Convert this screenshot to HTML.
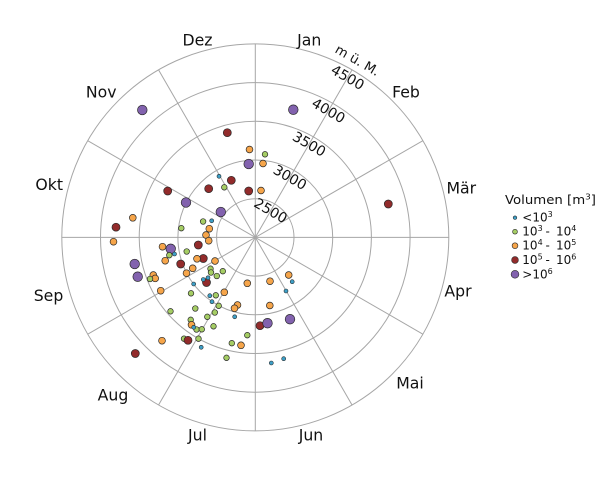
<!DOCTYPE html>
<html>
<head>
<meta charset="utf-8">
<style>
html,body{margin:0;padding:0;background:#fff;}
svg{display:block;}
text{font-family:"DejaVu Sans","Liberation Sans",sans-serif;fill:#111;}
</style>
</head>
<body>
<svg width="616" height="483" viewBox="0 0 616 483" xmlns="http://www.w3.org/2000/svg">
<rect width="616" height="483" fill="#fff"/>
<g fill="none" stroke="#a6a6a6" stroke-width="1">
<circle cx="255.3" cy="237.4" r="38.7"/>
<circle cx="255.3" cy="237.4" r="77.4"/>
<circle cx="255.3" cy="237.4" r="116.1"/>
<circle cx="255.3" cy="237.4" r="154.8"/>
<circle cx="255.3" cy="237.4" r="193.5"/>
<line x1="255.3" y1="43.9" x2="255.3" y2="430.9"/>
<line x1="61.8" y1="237.4" x2="448.8" y2="237.4"/>
<line x1="352.05" y1="69.82" x2="158.55" y2="404.98"/>
<line x1="422.88" y1="140.65" x2="87.72" y2="334.15"/>
<line x1="422.88" y1="334.15" x2="87.72" y2="140.65"/>
<line x1="352.05" y1="404.98" x2="158.55" y2="69.82"/>
</g>

<!-- month labels -->
<g font-size="15.7" text-anchor="middle">
<text x="309.2" y="45.7">Jan</text>
<text x="406" y="97.3">Feb</text>
<text x="461.3" y="193.3">Mär</text>
<text x="458" y="296.7">Apr</text>
<text x="410" y="388.3">Mai</text>
<text x="311" y="440.5">Jun</text>
<text x="197.5" y="440.5">Jul</text>
<text x="113" y="400.5">Aug</text>
<text x="48.5" y="301">Sep</text>
<text x="49.2" y="190">Okt</text>
<text x="101.2" y="97.3">Nov</text>
<text x="197.5" y="45.7">Dez</text>
</g>

<!-- radial labels -->
<g font-size="14" text-anchor="middle">
<text transform="translate(270.8,210.5) rotate(30)" y="5">2500</text>
<text transform="translate(290.1,177.2) rotate(30)" y="5">3000</text>
<text transform="translate(309.3,143.9) rotate(30)" y="5">3500</text>
<text transform="translate(328.6,110.5) rotate(30)" y="5">4000</text>
<text transform="translate(347.8,77.2) rotate(30)" y="5">4500</text>
<text transform="translate(357.5,60.3) rotate(30)" y="4.5" font-size="13">m ü. M.</text>
</g>

<!-- purple >10^6 -->
<g fill="#8262ae" stroke="#2a2a2a" stroke-width="0.7">
<circle cx="142.3" cy="110" r="4.8"/>
<circle cx="293.3" cy="109.7" r="4.8"/>
<circle cx="248.7" cy="164" r="4.8"/>
<circle cx="186" cy="202.5" r="4.8"/>
<circle cx="220.8" cy="212" r="4.8"/>
<circle cx="170.7" cy="248.8" r="4.8"/>
<circle cx="134.7" cy="264" r="4.8"/>
<circle cx="137.7" cy="276.7" r="4.8"/>
<circle cx="290" cy="319.2" r="4.8"/>
</g>

<!-- red 10^5-10^6 -->
<g fill="#922b2b" stroke="#2a2a2a" stroke-width="0.7">
<circle cx="227.3" cy="132.7" r="4"/>
<circle cx="231.3" cy="180.3" r="4"/>
<circle cx="208.7" cy="188.7" r="4"/>
<circle cx="248.7" cy="191" r="4"/>
<circle cx="167.7" cy="191" r="4"/>
<circle cx="388.3" cy="204" r="4"/>
<circle cx="116" cy="227.2" r="4"/>
<circle cx="198.3" cy="245" r="4"/>
<circle cx="180.7" cy="264" r="4"/>
<circle cx="203.3" cy="258.5" r="4"/>
<circle cx="206.5" cy="282.5" r="4"/>
<circle cx="260" cy="325.7" r="4"/>
<circle cx="135.3" cy="353.5" r="4"/>
</g>
<circle cx="267.5" cy="323.2" r="4.8" fill="#8262ae" stroke="#2a2a2a" stroke-width="0.7"/>

<!-- orange 10^4-10^5 -->
<g fill="#f6a54a" stroke="#2a2a2a" stroke-width="0.7">
<circle cx="249.5" cy="149.5" r="3.4"/>
<circle cx="263" cy="163.5" r="3.4"/>
<circle cx="261" cy="190.5" r="3.4"/>
<circle cx="132.8" cy="217.8" r="3.4"/>
<circle cx="113.5" cy="241.7" r="3.4"/>
<circle cx="209.3" cy="228.7" r="3.4"/>
<circle cx="206" cy="235" r="3.4"/>
<circle cx="208.7" cy="240.7" r="3.4"/>
<circle cx="162.5" cy="246.7" r="3.4"/>
<circle cx="165.2" cy="260.7" r="3.4"/>
<circle cx="197" cy="258.8" r="3.4"/>
<circle cx="215" cy="261" r="3.4"/>
<circle cx="192.7" cy="268.3" r="3.4"/>
<circle cx="186.5" cy="273.2" r="3.4"/>
<circle cx="153.3" cy="275" r="3.4"/>
<circle cx="155.2" cy="278.4" r="3.4"/>
<circle cx="247.3" cy="283.3" r="3.4"/>
<circle cx="270" cy="281.2" r="3.4"/>
<circle cx="288.7" cy="275" r="3.4"/>
<circle cx="160.7" cy="290.7" r="3.4"/>
<circle cx="224.3" cy="292.3" r="3.4"/>
<circle cx="237.5" cy="305" r="3.4"/>
<circle cx="234.5" cy="308.3" r="3.4"/>
<circle cx="269.8" cy="305.5" r="3.4"/>
<circle cx="162" cy="340.7" r="3.4"/>
<circle cx="241" cy="345.3" r="3.4"/>
</g>

<!-- green 10^3-10^4 -->
<g fill="#a5cd64" stroke="#2a2a2a" stroke-width="0.7">
<circle cx="265" cy="154.3" r="2.8"/>
<circle cx="224.3" cy="187.3" r="2.8"/>
<circle cx="203.1" cy="221.5" r="2.8"/>
<circle cx="181.3" cy="228.2" r="2.8"/>
<circle cx="169.3" cy="255.2" r="2.8"/>
<circle cx="186.7" cy="251.5" r="2.8"/>
<circle cx="150" cy="279" r="2.8"/>
<circle cx="210.5" cy="268.7" r="2.8"/>
<circle cx="211" cy="272.5" r="2.8"/>
<circle cx="222.8" cy="271.2" r="2.8"/>
<circle cx="216.8" cy="276" r="2.8"/>
<circle cx="191" cy="293.3" r="2.8"/>
<circle cx="215.8" cy="295.3" r="2.8"/>
<circle cx="218.7" cy="305.8" r="2.8"/>
<circle cx="195.3" cy="308.5" r="2.8"/>
<circle cx="170.5" cy="311.3" r="2.8"/>
<circle cx="214.8" cy="312.5" r="2.8"/>
<circle cx="207.3" cy="316.8" r="2.8"/>
<circle cx="190.7" cy="319.8" r="2.8"/>
<circle cx="196.5" cy="329.5" r="2.8"/>
<circle cx="201.8" cy="329.3" r="2.8"/>
<circle cx="213.5" cy="326.3" r="2.8"/>
<circle cx="184" cy="338.7" r="2.8"/>
<circle cx="198.5" cy="338.7" r="2.8"/>
<circle cx="247.3" cy="335.2" r="2.8"/>
<circle cx="231.8" cy="343.2" r="2.8"/>
<circle cx="226.5" cy="357.8" r="2.8"/>
</g>
<circle cx="191.5" cy="324.8" r="3.4" fill="#f6a54a" stroke="#2a2a2a" stroke-width="0.7"/>
<circle cx="188" cy="340.3" r="4" fill="#922b2b" stroke="#2a2a2a" stroke-width="0.7"/>

<!-- blue <10^3 -->
<g fill="#3d9fc7" stroke="#2a2a2a" stroke-width="0.6">
<circle cx="219" cy="176.3" r="2"/>
<circle cx="211.7" cy="220.8" r="2"/>
<circle cx="174.5" cy="254" r="2"/>
<circle cx="208" cy="277.8" r="2"/>
<circle cx="203.3" cy="279.5" r="2"/>
<circle cx="193.7" cy="284" r="2"/>
<circle cx="209.8" cy="295.7" r="2"/>
<circle cx="212" cy="301.7" r="2"/>
<circle cx="234.7" cy="316.8" r="2"/>
<circle cx="193.7" cy="327.3" r="2"/>
<circle cx="201.2" cy="347.3" r="2"/>
<circle cx="292.2" cy="281.7" r="2"/>
<circle cx="286" cy="291" r="2"/>
<circle cx="271.3" cy="363" r="2"/>
<circle cx="283.7" cy="358.7" r="2"/>
</g>

<!-- legend -->
<text x="505" y="204" font-size="12" textLength="91" lengthAdjust="spacingAndGlyphs">Volumen [m<tspan font-size="8" dy="-4.5">3</tspan><tspan dy="4.5">]</tspan></text>
<circle cx="515" cy="217.7" r="1.8" fill="#3d9fc7" stroke="#2a2a2a" stroke-width="0.6"/>
<circle cx="515" cy="231.7" r="2.4" fill="#a5cd64" stroke="#2a2a2a" stroke-width="0.6"/>
<circle cx="515" cy="245.7" r="2.9" fill="#f6a54a" stroke="#2a2a2a" stroke-width="0.6"/>
<circle cx="515" cy="260" r="3.4" fill="#922b2b" stroke="#2a2a2a" stroke-width="0.6"/>
<circle cx="515" cy="274.3" r="3.9" fill="#8262ae" stroke="#2a2a2a" stroke-width="0.6"/>
<g font-size="12">
<text x="522.3" y="221.7">&lt;10<tspan font-size="8" dy="-4.5">3</tspan></text>
<text x="522.3" y="235.7">10<tspan font-size="8" dy="-4.5">3</tspan></text>
<text x="545.5" y="235.7">-</text>
<text x="556" y="235.7">10<tspan font-size="8" dy="-4.5">4</tspan></text>
<text x="522.3" y="249.7">10<tspan font-size="8" dy="-4.5">4</tspan></text>
<text x="545.5" y="249.7">-</text>
<text x="556" y="249.7">10<tspan font-size="8" dy="-4.5">5</tspan></text>
<text x="522.3" y="264">10<tspan font-size="8" dy="-4.5">5</tspan></text>
<text x="545.5" y="264">-</text>
<text x="556" y="264">10<tspan font-size="8" dy="-4.5">6</tspan></text>
<text x="522.3" y="278.3">&gt;10<tspan font-size="8" dy="-4.5">6</tspan></text>
</g>
</svg>
</body>
</html>
